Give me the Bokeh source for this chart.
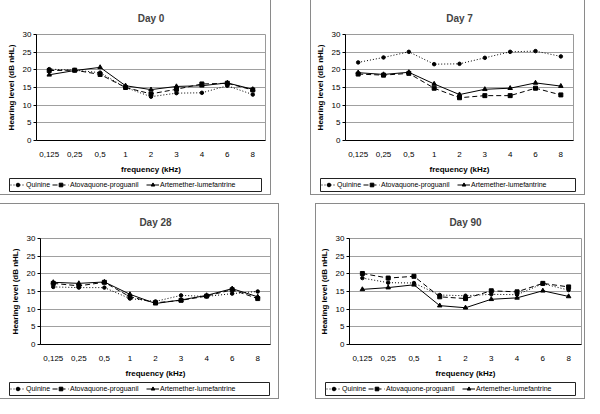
from bokeh.plotting import figure
from bokeh.models import FactorRange, Range1d, Legend, LegendItem, Spacer, FixedTicker
from bokeh.layouts import column, row
from bokeh.embed import file_html
from bokeh.resources import INLINE

freqs = ["0,125", "0,25", "0,5", "1", "2", "3", "4", "6", "8"]
y_ticks = [0, 5, 10, 15, 20, 25, 30]
series_names = ["Quinine", "Atovaquone-proguanil", "Artemether-lumefantrine"]

# Day 0
quinine_d0 = [20.2, 19.9, 19.2, 15.0, 12.4, 13.4, 13.5, 15.5, 13.0]
atovaquone_d0 = [19.8, 19.9, 18.7, 15.0, 13.2, 14.5, 16.0, 16.2, 14.3]
artemether_d0 = [18.6, 19.8, 20.7, 15.5, 14.4, 15.3, 15.5, 16.3, 14.5]
# Day 7
quinine_d7 = [22.1, 23.5, 25.1, 21.6, 21.7, 23.4, 25.1, 25.3, 23.8]
atovaquone_d7 = [18.8, 18.5, 19.0, 14.8, 12.1, 12.7, 12.7, 14.8, 12.9]
artemether_d7 = [19.2, 18.7, 19.3, 16.0, 13.0, 14.5, 14.8, 16.3, 15.4]
# Day 28
quinine_d28 = [16.3, 16.1, 16.1, 13.0, 12.2, 13.9, 13.6, 14.4, 15.0]
atovaquone_d28 = [17.3, 16.6, 17.6, 13.5, 11.8, 12.5, 13.7, 15.5, 13.0]
artemether_d28 = [17.6, 17.3, 17.7, 14.2, 11.6, 12.6, 13.9, 15.8, 13.5]
# Day 90
quinine_d90 = [18.8, 17.5, 17.4, 14.0, 13.8, 14.2, 14.1, 17.2, 15.4]
atovaquone_d90 = [20.1, 18.8, 19.3, 13.5, 13.0, 15.2, 14.9, 17.3, 16.3]
artemether_d90 = [15.6, 16.1, 16.9, 11.0, 10.4, 12.8, 13.2, 15.2, 13.6]

FONT = "Liberation Sans"
Q_STYLE = dict(line_dash="1 2")
A_STYLE = dict(line_dash="5 3")
R_STYLE = dict()


def add_series(p, q, a, r, xs):
    lq = p.line(xs, q, line_color="black", line_width=1, **Q_STYLE)
    sq = p.scatter(xs, q, marker="circle", size=3.5, color="black")
    la = p.line(xs, a, line_color="black", line_width=1, **A_STYLE)
    sa = p.scatter(xs, a, marker="square", size=4, color="black")
    lr = p.line(xs, r, line_color="black", line_width=1, **R_STYLE)
    sr = p.scatter(xs, r, marker="triangle", size=4.5, color="black")
    return [(lq, sq), (la, sa), (lr, sr)]


def panel(title, q, a, r, w, bl, br):
    p = figure(x_range=FactorRange(factors=freqs), y_range=Range1d(0, 30),
               width=w, height=176, output_backend="svg", toolbar_location=None,
               min_border_left=bl, min_border_right=br, min_border_top=34,
               min_border_bottom=34, title=title)
    p.title.align = "center"
    p.title.text_font = FONT
    p.title.text_font_size = "10px"
    p.title.text_font_style = "bold"
    p.title.standoff = 21
    p.outline_line_color = "#9a9a9a"
    p.xgrid.grid_line_color = None
    p.ygrid.grid_line_color = "#a0a0a0"
    p.yaxis.ticker = FixedTicker(ticks=y_ticks)
    for ax in (p.xaxis, p.yaxis):
        ax.axis_line_color = "black"
        ax.major_label_text_font = FONT
        ax.major_label_text_font_size = "8px"
        ax.major_label_text_color = "black"
        ax.axis_label_text_font = FONT
        ax.axis_label_text_font_size = "8px"
        ax.axis_label_text_font_style = "bold"
        ax.axis_label_text_color = "black"
        ax.minor_tick_line_color = None
    p.yaxis.axis_label = "Hearing level (dB nHL)"
    p.yaxis.major_tick_out = 3
    p.yaxis.major_tick_in = 0
    p.yaxis.major_label_standoff = 2
    p.yaxis.axis_label_standoff = 4
    p.xaxis.axis_label = "frequency (kHz)"
    p.xaxis.major_tick_line_color = None
    p.xaxis.major_label_standoff = 5
    p.xaxis.axis_label_standoff = 5
    add_series(p, q, a, r, freqs)

    # legend strip: its frame is the legend box; the series sit outside its y range
    lg = figure(width=w, height=18, x_range=FactorRange(factors=freqs),
                y_range=Range1d(100, 101),
                output_backend="svg", toolbar_location=None,
                x_axis_location=None, y_axis_location=None,
                min_border_left=9, min_border_right=9, min_border_top=2,
                min_border_bottom=3, outline_line_color="#222222",
                outline_line_width=1)
    lg.grid.visible = False
    pairs = add_series(lg, q, a, r, freqs)
    offsets = [1, 43, 137]
    gwidths = [15, 17, 13]
    for name, pr, xo, gw in zip(series_names, pairs, offsets, gwidths):
        leg = Legend(items=[LegendItem(label=name, renderers=list(pr))],
                     location=(xo, 2), orientation="horizontal",
                     label_text_font=FONT, label_text_font_size="7px",
                     label_text_color="black",
                     glyph_width=gw, glyph_height=9, label_height=9,
                     label_standoff=1, spacing=0, padding=0, margin=0,
                     border_line_color=None, background_fill_alpha=0)
        lg.add_layout(leg, "center")
    return column(p, column(lg), spacing=0,
                  styles={"outline": "1px solid #8a8a8a"})


c1 = panel("Day 0", quinine_d0, atovaquone_d0, artemether_d0, 270, 36, 5)
c2 = panel("Day 7", quinine_d7, atovaquone_d7, artemether_d7, 273, 34, 11)
c3 = panel("Day 28", quinine_d28, atovaquone_d28, artemether_d28, 278, 40, 8)
c4 = panel("Day 90", quinine_d90, atovaquone_d90, artemether_d90, 268, 32, 3)

layout = column(row(c1, Spacer(width=41), c2),
                Spacer(height=10),
                row(c3, Spacer(width=38), c4))

open("out.html", "w").write(file_html(layout, INLINE))
